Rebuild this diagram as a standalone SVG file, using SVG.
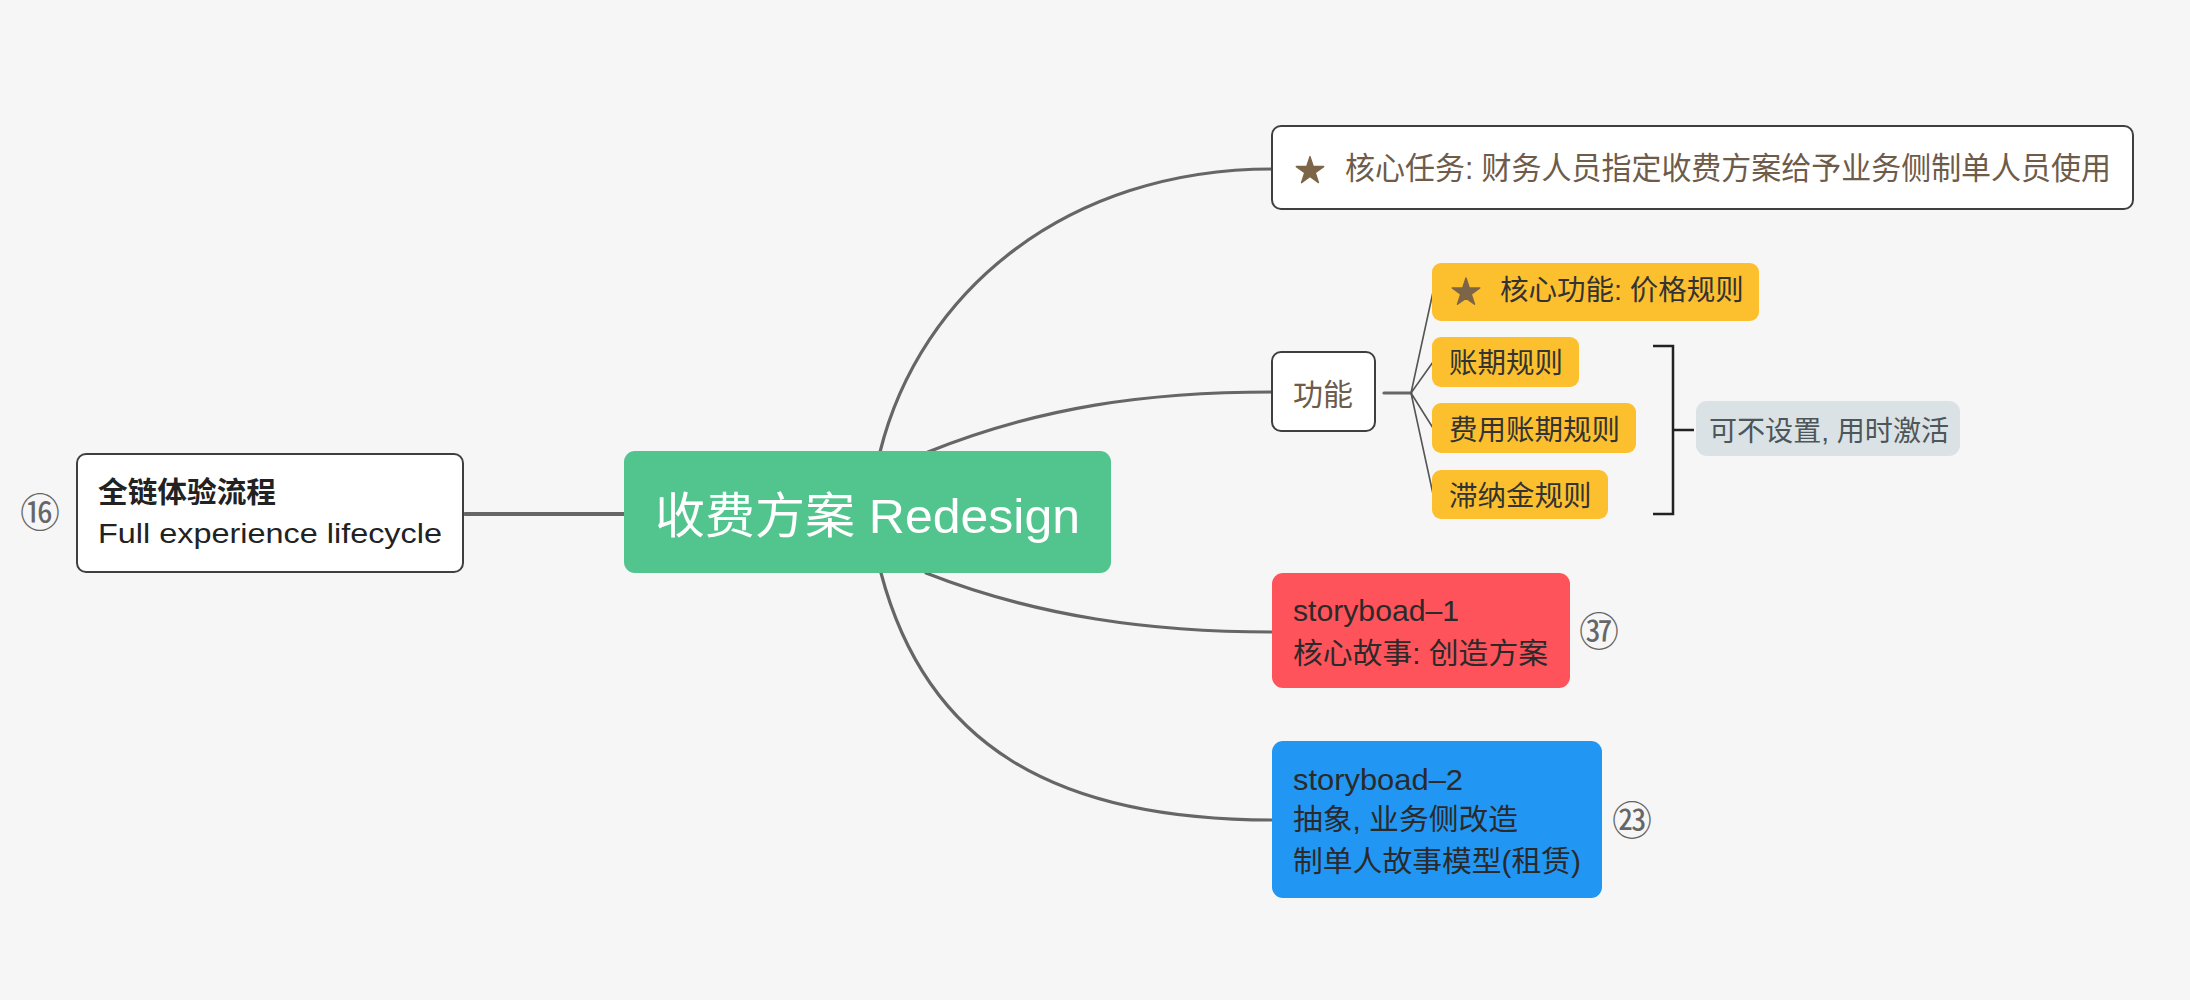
<svg xmlns="http://www.w3.org/2000/svg" xmlns:xlink="http://www.w3.org/1999/xlink" width="2190" height="1000" viewBox="0 0 2190 1000">
<style>
text { font-family: "Liberation Sans", "Noto Sans CJK SC", sans-serif; }
.box { fill: #ffffff; stroke: #3f3f3f; stroke-width: 2; }
.yel { fill: #FCC02E; }
.conn { fill: none; stroke: #666666; stroke-width: 3.2; stroke-linecap: round; }
.fan { fill: none; stroke: #555555; stroke-width: 1.6; }
.brown { fill: #6E5B4A; }
.ytxt { fill: #333333; font-size: 28.5px; }
.dark { fill: #2a2a2a; font-size: 29px; }
.num { fill: #666666; font-family: "Noto Sans CJK SC", sans-serif; font-size: 40px; text-anchor: middle; }
</style>
<defs>
<polygon id="star" points="0,-1 0.2245,-0.309 0.951,-0.309 0.363,0.118 0.588,0.809 0,0.382 -0.588,0.809 -0.363,0.118 -0.951,-0.309 -0.2245,-0.309" fill="#7D6548" stroke="#7D6548" stroke-width="0.1" stroke-linejoin="round"/>
</defs>
<rect x="0" y="0" width="2190" height="1000" fill="#F6F6F6"/>

<g id="connectors">
<path class="conn" d="M 465 514 L 626 514" style="stroke-width:4"/>
<path class="conn" d="M 880 452 C 920 291 1067 169 1272 169"/>
<path class="conn" d="M 928 452 C 1040 407 1147 392 1272 392"/>
<path class="conn" d="M 926 573 C 1038 617 1152 632 1272 632"/>
<path class="conn" d="M 881 573 C 926 743 1052 820 1272 820"/>
<path class="conn" d="M 1384 393 L 1411 393"/>
<path class="fan" d="M 1411 393 L 1433 292 M 1411 393 L 1433 362 M 1411 393 L 1433 428 M 1411 393 L 1433 494"/>
<path d="M 1653 346 H 1673 V 514 H 1653 M 1673 430 H 1694" fill="none" stroke="#222222" stroke-width="2.5"/>
</g>

<g id="node-left">
<rect class="box" x="77" y="454" width="386" height="118" rx="9"/>
<text x="98" y="503" font-size="29" font-weight="bold" fill="#222222" textLength="178" lengthAdjust="spacingAndGlyphs">全链体验流程</text>
<text x="98" y="543" font-size="28" fill="#222222" textLength="344" lengthAdjust="spacingAndGlyphs">Full experience lifecycle</text>
</g>
<g id="badge-16"><text class="num" x="40" y="527">⑯</text></g>

<g id="node-center">
<rect x="624" y="451" width="487" height="122" rx="11" fill="#52C48D"/>
<text x="655" y="533" font-size="49" fill="#ffffff" textLength="425" lengthAdjust="spacingAndGlyphs">收费方案 Redesign</text>
</g>

<g id="node-task">
<rect class="box" x="1272" y="126" width="861" height="83" rx="9"/>
<use xlink:href="#star" transform="translate(1310,171) scale(14.4)"/>
<text class="brown" x="1345" y="179" font-size="31" textLength="766" lengthAdjust="spacingAndGlyphs">核心任务: 财务人员指定收费方案给予业务侧制单人员使用</text>
</g>

<g id="node-func">
<rect class="box" x="1272" y="352" width="103" height="79" rx="9"/>
<text class="brown" x="1293" y="405" font-size="30">功能</text>
</g>

<g id="node-price">
<rect class="yel" x="1432" y="263" width="327" height="58" rx="9"/>
<use xlink:href="#star" transform="translate(1466,292.5) scale(14.5)"/>
<text class="ytxt" x="1500" y="300">核心功能: 价格规则</text>
</g>

<g id="node-billing">
<rect class="yel" x="1432" y="337" width="147" height="50" rx="9"/>
<text class="ytxt" x="1449" y="373">账期规则</text>
</g>

<g id="node-fee-billing">
<rect class="yel" x="1432" y="403" width="204" height="50" rx="9"/>
<text class="ytxt" x="1449" y="440">费用账期规则</text>
</g>

<g id="node-late-fee">
<rect class="yel" x="1432" y="470" width="176" height="49" rx="9"/>
<text class="ytxt" x="1449" y="506">滞纳金规则</text>
</g>

<g id="node-summary">
<rect x="1696" y="401" width="264" height="55" rx="11" fill="#DAE2E5"/>
<text x="1709" y="441" font-size="28.5" fill="#4D5658" textLength="240" lengthAdjust="spacingAndGlyphs">可不设置, 用时激活</text>
</g>

<g id="node-story1">
<rect x="1272" y="573" width="298" height="115" rx="11" fill="#FE535B"/>
<text class="dark" x="1293" y="621" textLength="166" lengthAdjust="spacingAndGlyphs">storyboad–1</text>
<text class="dark" x="1293" y="664" textLength="255" lengthAdjust="spacingAndGlyphs">核心故事: 创造方案</text>
</g>
<g id="badge-37"><text class="num" x="1599" y="646">㊲</text></g>

<g id="node-story2">
<rect x="1272" y="741" width="330" height="157" rx="11" fill="#2196F3"/>
<text class="dark" x="1293" y="790" textLength="170" lengthAdjust="spacingAndGlyphs">storyboad–2</text>
<text class="dark" x="1293" y="830" textLength="225" lengthAdjust="spacingAndGlyphs">抽象, 业务侧改造</text>
<text class="dark" x="1293" y="872" textLength="288" lengthAdjust="spacingAndGlyphs">制单人故事模型(租赁)</text>
</g>
<g id="badge-23"><text class="num" x="1632" y="835">㉓</text></g>
</svg>
